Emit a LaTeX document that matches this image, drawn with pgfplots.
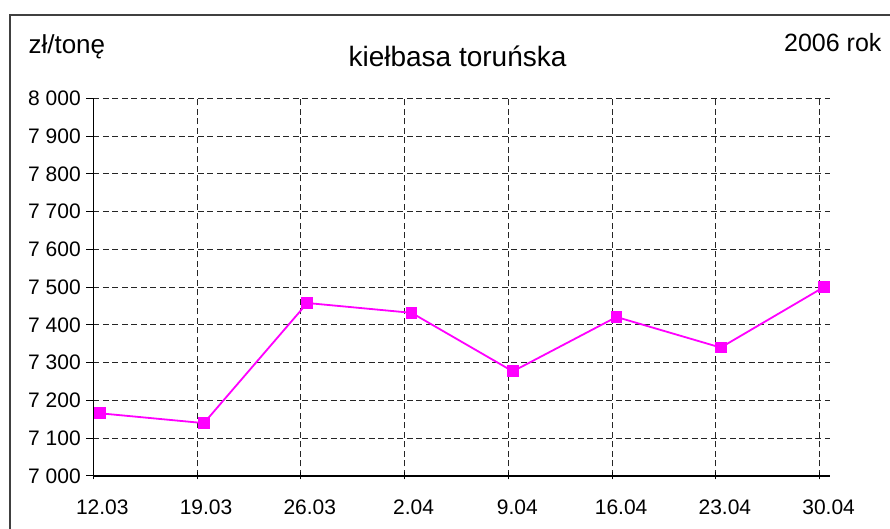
\documentclass[border=0pt]{standalone}
\usepackage{fontspec}
\setmainfont{Liberation Sans}
\usepackage{pgfplots}
\pgfplotsset{compat=1.18}

\definecolor{seria}{RGB}{255,0,255}
\definecolor{ramka}{RGB}{64,64,64}

\begin{document}
\begin{tikzpicture}
% page = 890 x 529 (1pt per pixel)
\path[use as bounding box] (0,0) rectangle (890pt,529pt);
\draw[ramka, line width=1.5pt] (10pt,-20pt) -- (10pt,514pt) -- (910pt,514pt);

\node[anchor=base west, font=\fontsize{26}{29}\selectfont] at (25pt,475.7pt) {zł/tonę};
\node[anchor=base east, font=\fontsize{25}{28}\selectfont] at (885pt,477.3pt) {2006 rok};
\node[anchor=base, font=\fontsize{28}{31}\selectfont] at (457.5pt,462pt) {kiełbasa toruńska};

\begin{axis}[
    at={(93.3pt,53pt)}, anchor=south west,
    scale only axis,
    width=736.7pt, height=377.7pt,
    xmin=0, xmax=7.1,
    ymin=7000, ymax=8000,
    axis x line*=bottom, axis y line*=left,
    axis line style={-, black, line width=1.6pt},
    xtick={0,...,7},
    xticklabels={12.03,19.03,26.03,2.04,9.04,16.04,23.04,30.04},
    ytick={7000,7100,...,8000},
    /pgf/number format/assume math mode=true,
    /pgf/number format/1000 sep={\ },
    x tick style={black, line width=1pt},
    y tick style={black, line width=1pt},
    xtick align=center, ytick align=outside,
    major tick length=7pt,
    ticklabel style={font=\fontsize{21}{24}\selectfont},
    xticklabel style={xshift=9pt, yshift=-17pt},
    yticklabel style={xshift=-2pt},
    grid=major,
    grid style={black!85, line width=0.9pt, dash pattern=on 6pt off 3.5pt},
    clip=false,
]
\addplot[seria, line width=1.8pt, mark=square*, mark size=5pt,
    mark options={solid, fill=seria, draw=seria}]
    coordinates {
    (0.065,7166) (1.066,7140) (2.062,7458) (3.067,7432)
    (4.043,7277) (5.042,7421) (6.047,7340) (7.040,7500)
    };
\end{axis}
\end{tikzpicture}
\end{document}
